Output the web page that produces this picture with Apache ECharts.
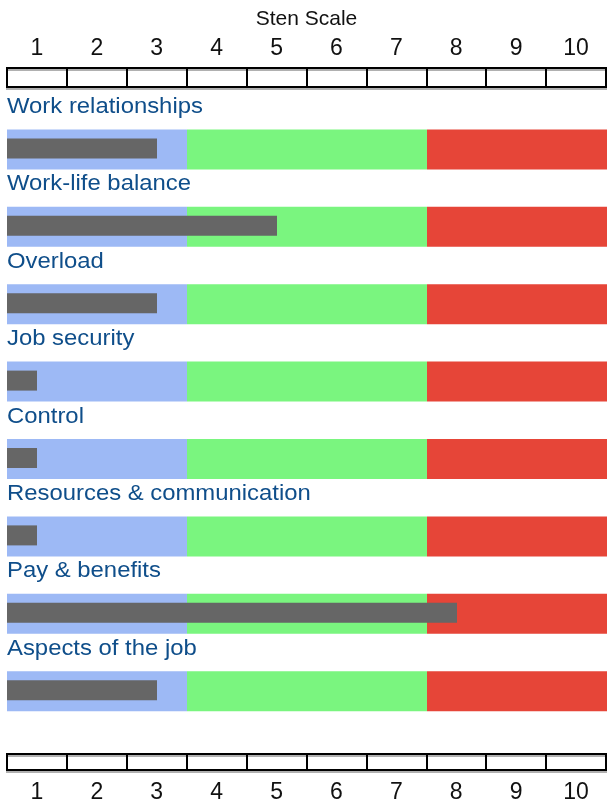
<!DOCTYPE html>
<html>
<head>
<meta charset="utf-8">
<script src="https://cdn.jsdelivr.net/npm/echarts@6/dist/echarts.min.js"></script>
<style>
  html, body { margin: 0; padding: 0; background: #fff; }
  #chart { width: 607px; height: 804px; }
</style>
</head>
<body>
<div id="chart"></div>
<script>
// sten scale data
var scaleLabels = ['1', '2', '3', '4', '5', '6', '7', '8', '9', '10'];
var categories = ['Work relationships', 'Work-life balance', 'Overload', 'Job security',
    'Control', 'Resources & communication', 'Pay & benefits', 'Aspects of the job'];
var scores = [3, 5, 3, 1, 1, 1, 8, 3];
// band limits: low / typical / high
var bandLimits = [0.5, 3.5, 7.5, 10.5];
var bandColors = ['#9db9f5', '#7af57f', '#e64538'];

var myChart = echarts.init(document.getElementById('chart'));

function rulerAxis(gridIndex, pos, margin) {
    return {
        type: 'category',
        gridIndex: gridIndex,
        position: pos,
        data: scaleLabels,
        axisLine: { show: false },
        axisTick: { show: false },
        splitLine: { show: true, interval: 0, lineStyle: { color: '#000', width: 2 } },
        axisLabel: {
            interval: 0, margin: margin,
            fontFamily: 'Liberation Sans', fontSize: 23, color: '#111'
        }
    };
}

function rulerGrid(top) {
    return {
        left: 7, right: 1, top: top, height: 19,
        show: true, backgroundColor: '#fff', borderColor: '#000', borderWidth: 2,
        shadowColor: '#b0b0b0', shadowOffsetY: 2, shadowBlur: 0
    };
}

var topAxis = rulerAxis(0, 'top', 8);
topAxis.name = 'Sten Scale';
topAxis.nameLocation = 'middle';
topAxis.nameGap = 38;
topAxis.nameMoveOverlap = false;
topAxis.nameTextStyle = { fontFamily: 'Liberation Sans', fontSize: 21, color: '#111' };

var option = {
    animation: false,
    grid: [
        rulerGrid(68),
        { left: 7, right: 0, top: 92, height: 619.2 },
        rulerGrid(754)
    ],
    xAxis: [
        topAxis,
        { type: 'value', gridIndex: 1, min: bandLimits[0], max: bandLimits[3], show: false },
        rulerAxis(2, 'bottom', 11)
    ],
    yAxis: [
        { type: 'value', gridIndex: 0, show: false },
        { type: 'category', gridIndex: 1, data: categories, inverse: true, show: false },
        { type: 'value', gridIndex: 2, show: false }
    ],
    series: [{
        type: 'custom',
        xAxisIndex: 1,
        yAxisIndex: 1,
        data: scores.map(function (v, i) { return [v, i]; }),
        renderItem: function (params, api) {
            var idx = api.value(1);
            var c = api.coord([bandLimits[0], idx]);
            var slot = api.size([0, 1])[1];
            var slotTop = c[1] - slot / 2;
            var bandTop = slotTop + slot - 40;
            var children = [];
            for (var b = 0; b < 3; b++) {
                var x0 = api.coord([bandLimits[b], idx])[0];
                var x1 = api.coord([bandLimits[b + 1], idx])[0];
                children.push({
                    type: 'rect',
                    shape: { x: x0, y: bandTop, width: x1 - x0, height: 40 },
                    style: { fill: bandColors[b] }
                });
            }
            var xEnd = api.coord([api.value(0), idx])[0];
            children.push({
                type: 'rect',
                shape: { x: c[0], y: bandTop + 9, width: xEnd - c[0], height: 20 },
                style: { fill: '#666666' }
            });
            // category name above its band
            children.push({
                type: 'text',
                x: c[0], y: slotTop + 15,
                scaleX: 1.085,
                style: {
                    x: 0, y: 0,
                    text: categories[idx],
                    textVerticalAlign: 'middle',
                    fontFamily: 'Liberation Sans', fontSize: 22, fill: '#0f4e8a'
                }
            });
            return { type: 'group', children: children };
        }
    }]
};
myChart.setOption(option);
</script>
</body>
</html>
